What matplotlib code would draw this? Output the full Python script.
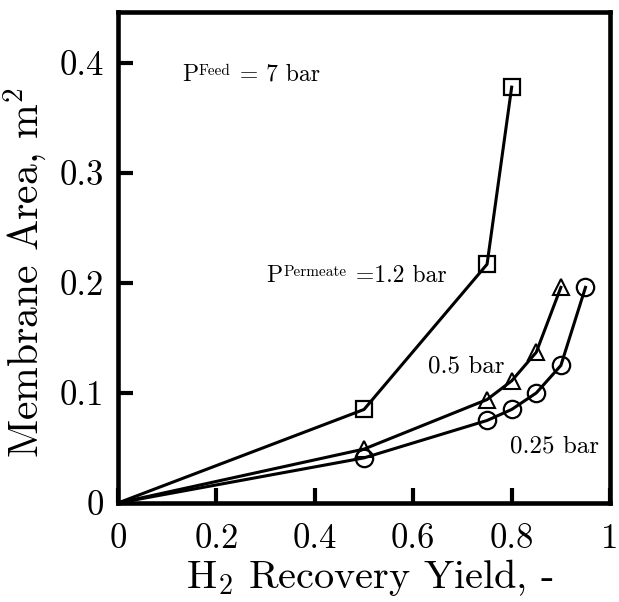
import numpy as np
import matplotlib
matplotlib.use('Agg')
import matplotlib.pyplot as plt

plt.rcParams['font.family'] = 'cmr10'
plt.rcParams['mathtext.fontset'] = 'cm'
plt.rcParams['axes.formatter.use_mathtext'] = True

# data
x_sq = [0, 0.5, 0.75, 0.8]
y_sq = [0, 0.085, 0.217, 0.378]
x_tri = [0, 0.5, 0.75, 0.8, 0.85, 0.9]
y_tri = [0, 0.049, 0.094, 0.111, 0.137, 0.196]
x_circ = [0, 0.5, 0.75, 0.8, 0.85, 0.9, 0.95]
y_circ = [0, 0.041, 0.075, 0.085, 0.1, 0.125, 0.196]

xticks = [0, 0.2, 0.4, 0.6, 0.8, 1.0]
xticklabels = ['0', '0.2', '0.4', '0.6', '0.8', '1']
yticks = [0, 0.1, 0.2, 0.3, 0.4]
yticklabels = ['0', '0.1', '0.2', '0.3', '0.4']

fig = plt.figure(figsize=(6.19, 6.02), dpi=100)
ax = fig.add_axes([0.1906, 0.1645, 0.795, 0.815])

lw = 2.2
ax.plot(x_sq, y_sq, '-', color='k', lw=lw)
ax.plot(x_sq[1:], y_sq[1:], 's', ms=11.5, mfc='none', mec='k', mew=1.6)
ax.plot(x_tri, y_tri, '-', color='k', lw=lw)
ax.plot(x_tri[1:], y_tri[1:], '^', ms=11.5, mfc='none', mec='k', mew=1.5)
ax.plot(x_circ, y_circ, '-', color='k', lw=lw)
ax.plot(x_circ[1:], y_circ[1:], 'o', ms=12.5, mfc='none', mec='k', mew=1.6)


def label_sup(x, y, base, sup, rest, fs=17, fs_sup=11):
    # "P" + small raised superscript + rest of the label on the base line
    t0 = ax.text(x, y, base, fontsize=fs, va='baseline')
    t1 = ax.annotate(sup, xy=(1, 1), xycoords=t0, xytext=(0.5, -0.5),
                     textcoords='offset points', fontsize=fs_sup, va='top')
    ax.annotate(rest, xy=(1, 0), xycoords=(t1, t0), xytext=(1, 0),
                textcoords='offset points', fontsize=fs, va='bottom')


label_sup(0.13, 0.384, 'P', 'Feed', ' = 7 bar')
label_sup(0.302, 0.201, 'P', 'Permeate', ' =1.2 bar')
ax.text(0.63, 0.119, '0.5 bar', fontsize=18, va='baseline')
ax.text(0.797, 0.0455, '0.25 bar', fontsize=18, va='baseline')

ax.set_xlim(0, 1)
ax.set_ylim(0, 0.446)
ax.set_xticks(xticks)
ax.set_xticklabels(xticklabels)
ax.set_yticks(yticks)
ax.set_yticklabels(yticklabels)
ax.tick_params(direction='in', length=11, width=3, labelsize=25)
ax.tick_params(axis='x', pad=15)
ax.tick_params(axis='y', pad=10)

for s in ax.spines.values():
    s.set_linewidth(3.3)

ax.set_xlabel(r'H$_2$ Recovery Yield, -', fontsize=29)
ax.set_ylabel(r'Membrane Area, m$^2$', fontsize=30)
ax.xaxis.set_label_coords(0.512, -0.11)
ax.yaxis.set_label_coords(-0.14, 0.47)

fig.savefig('out.png', dpi=100)
